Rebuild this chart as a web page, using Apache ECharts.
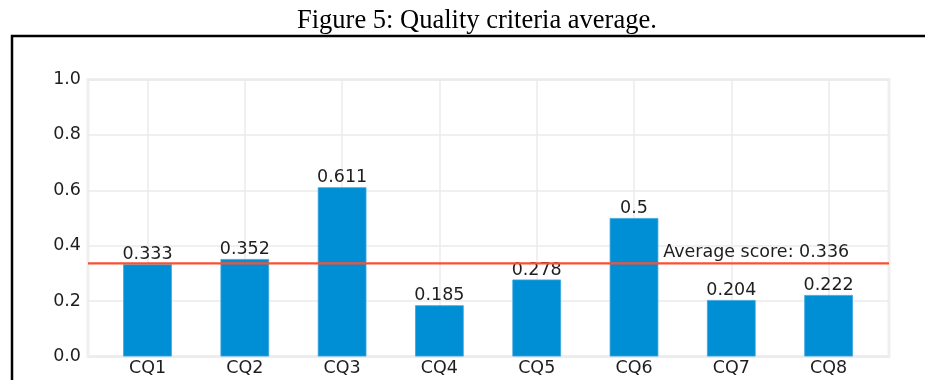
<!DOCTYPE html>
<html>
<head>
<meta charset="utf-8">
<script src="https://cdn.jsdelivr.net/npm/echarts@6/dist/echarts.min.js"></script>
<style>
  html, body { margin: 0; padding: 0; background: #fff; }
  #chart { width: 925px; height: 380px; }
</style>
</head>
<body>
<div id="chart"></div>
<script>
// ---- data ----
const categories = ['CQ1', 'CQ2', 'CQ3', 'CQ4', 'CQ5', 'CQ6', 'CQ7', 'CQ8'];
const scores = [0.333, 0.352, 0.611, 0.185, 0.278, 0.5, 0.204, 0.222];
const averageScore = 0.336;
const yTicks = [0.0, 0.2, 0.4, 0.6, 0.8, 1.0];
const titleText = 'Figure 5: Quality criteria average.';
const averageLabel = 'Average score: 0.336';
// annotation anchor in data coordinates (category index, value)
const annotationX = 5.3;
const annotationY = averageScore + 0.008;

const FONT = 'DejaVu Sans';
const TXT = '#1e1e1e';

const chart = echarts.init(document.getElementById('chart'), null, { renderer: 'canvas' });

const option = {
  animation: false,
  backgroundColor: '#ffffff',
  title: {
    text: titleText,
    left: 292,
    top: 3,
    textStyle: { fontFamily: 'Liberation Serif', fontSize: 26.5, fontWeight: 'normal', color: '#000' }
  },
  graphic: [{
    type: 'rect',
    shape: { x: 12, y: 36, width: 1000, height: 400 },
    style: { fill: 'none', stroke: '#000', lineWidth: 2.5 },
    z: 100
  }],
  grid: [
    { // frame grid
      left: 88, right: 36, top: 79.5, bottom: 23.5,
      show: true, borderColor: '#efefef', borderWidth: 3, backgroundColor: 'transparent'
    },
    { // bar grid
      left: 98.85, right: 47.75, top: 79.5, bottom: 23.5
    }
  ],
  xAxis: [
    { gridIndex: 0, type: 'value', min: 0, max: 1, show: false },
    {
      gridIndex: 1, type: 'category', data: categories,
      axisLine: { show: false }, axisTick: { show: false },
      axisLabel: { fontFamily: FONT, fontSize: 17.5, color: TXT, margin: 3 },
      splitLine: { show: true, alignWithLabel: true, lineStyle: { color: '#ebebeb', width: 1.5 } }
    },
    { gridIndex: 1, type: 'value', min: -0.5, max: 7.5, show: false }
  ],
  yAxis: [
    {
      gridIndex: 0, type: 'value', min: 0, max: 1, interval: 0.2,
      axisLine: { show: false }, axisTick: { show: false },
      axisLabel: {
        fontFamily: FONT, fontSize: 17.5, color: TXT, margin: 7,
        formatter: v => { const t = yTicks.find(x => Math.abs(x - v) < 1e-9); return (t !== undefined ? t : v).toFixed(1); }
      },
      splitLine: { show: true, lineStyle: { color: '#ebebeb', width: 1.5 } }
    },
    { gridIndex: 1, type: 'value', min: 0, max: 1, show: false, splitLine: { show: false } }
  ],
  series: [
    {
      type: 'bar',
      xAxisIndex: 1, yAxisIndex: 1,
      data: scores,
      barWidth: '50%',
      itemStyle: { color: '#008fd5', borderColor: '#3aa6df', borderWidth: 0.8 },
      label: {
        show: true, position: 'top', distance: 1,
        fontFamily: FONT, fontSize: 17.5, color: TXT, lineHeight: 17,
        formatter: p => String(scores[p.dataIndex])
      },
      z: 2
    },
    {
      type: 'line',
      xAxisIndex: 0, yAxisIndex: 0,
      data: [[0, averageScore], [1, averageScore]],
      symbol: 'none',
      lineStyle: { color: '#fc4f30', width: 2.3 },
      z: 5
    },
    {
      type: 'scatter',
      xAxisIndex: 2, yAxisIndex: 1,
      data: [[annotationX, annotationY]],
      symbolSize: 0,
      itemStyle: { opacity: 1 },
      label: {
        show: true, position: [0, 0], align: 'left', verticalAlign: 'bottom',
        formatter: averageLabel, opacity: 1,
        fontFamily: FONT, fontSize: 17.5, color: TXT
      },
      z: 6
    }
  ]
};

chart.setOption(option);
</script>
</body>
</html>
